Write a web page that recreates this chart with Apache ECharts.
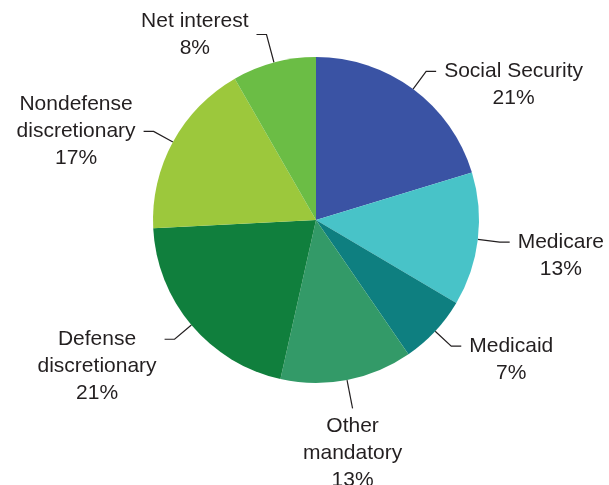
<!DOCTYPE html>
<html><head><meta charset="utf-8">
<script src="https://cdn.jsdelivr.net/npm/echarts@6/dist/echarts.min.js"></script>
<style>html,body{margin:0;padding:0;background:#fff;}#c{width:609px;height:485px;}</style>
</head><body><div id="c"></div>
<script>
// Categories, clockwise from 12 o'clock
const categories = ['Social Security', 'Medicare', 'Medicaid', 'Other\nmandatory', 'Defense\ndiscretionary', 'Nondefense\ndiscretionary', 'Net interest'];
// Slice sizes (percent of total)
const sliceShares = [20.3, 13.2, 6.9, 13.1, 20.7, 17.5, 8.3];
// Percentages printed on the labels
const labelPercents = [21, 13, 7, 13, 21, 17, 8];
const sliceColors = ['#3a53a4', '#48c3c8', '#0e7f80', '#339a68', '#107f3d', '#9cc83c', '#6bbd45'];

const CX = 316, CY = 220, R = 163, LH = 27, SEG1 = 22, SEG1V = 29, SEG2 = 10, GAP = 8, GAPV = 4;

const chart = echarts.init(document.getElementById('c'), null, { renderer: 'canvas' });
chart.setOption({
  animation: false,
  backgroundColor: '#fff',
  series: [{
    type: 'pie',
    center: [CX, CY],
    radius: R,
    startAngle: 90,
    clockwise: true,
    avoidLabelOverlap: false,
    data: categories.map((n, i) => ({ name: n, value: sliceShares[i], itemStyle: { color: sliceColors[i] } })),
    label: {
      show: true,
      formatter: p => p.name + '\n' + labelPercents[p.dataIndex] + '%',
      fontFamily: '"Liberation Sans", Arial, sans-serif',
      fontSize: 21,
      lineHeight: LH,
      color: '#231f20'
    },
    labelLine: { show: true, length: SEG1, length2: SEG2, smooth: false, lineStyle: { color: '#231f20', width: 1.2 } },
    emphasis: { disabled: true },
    labelLayout: function (p) {
      const pts = p.labelLinePoints;
      if (!pts) return {};
      const p0 = pts[0];
      let dx = p0[0] - CX, dy = p0[1] - CY;
      const len = Math.hypot(dx, dy); dx /= len; dy /= len;
      const w = p.labelRect.width, h = p.labelRect.height;
      const near = Math.abs(dx) < 0.3;
      const s1 = near ? SEG1V : SEG1;
      if (near && dy > 0) {
        const end = [p0[0] + dx * s1, p0[1] + dy * s1];
        return { x: end[0], y: end[1] + GAPV, align: 'center', verticalAlign: 'top', labelLinePoints: [p0, end, end] };
      }
      const side = dx < 0 ? -1 : 1;
      const p1 = [p0[0] + dx * s1, p0[1] + dy * s1];
      const p2 = [p1[0] + side * SEG2, p1[1]];
      const x = p2[0] + side * (GAP + w / 2);
      const top = (side < 0 && dy < 0) ? p2[1] - h / 2 : p2[1] - LH / 2;
      return { x: x, y: top, align: 'center', verticalAlign: 'top', labelLinePoints: [p0, p1, p2] };
    }
  }]
});
</script>
</body></html>
